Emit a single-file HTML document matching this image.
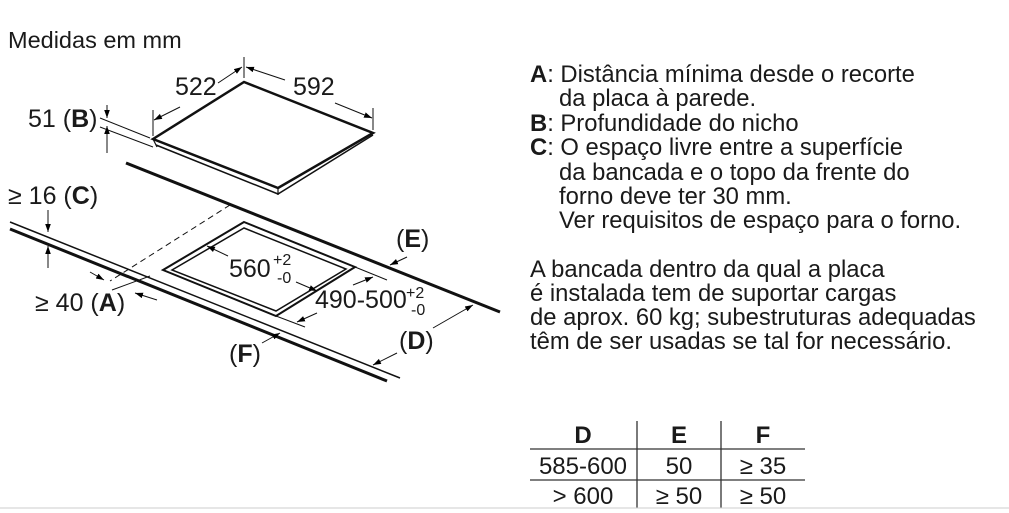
<!DOCTYPE html>
<html><head><meta charset="utf-8"><style>
html,body{margin:0;padding:0;background:#fff;}
svg{display:block;font-family:"Liberation Sans",Arial,sans-serif;}
</style></head><body>
<svg width="1009" height="513" viewBox="0 0 1009 513" xmlns="http://www.w3.org/2000/svg">
<defs>
<marker id="ar" viewBox="0 0 10 10" refX="10" refY="5" markerWidth="8" markerHeight="8" orient="auto-start-reverse"><path d="M0,1.5 L10,5 L0,8.5 z" fill="#000"/></marker>
</defs>
<text x="8" y="48" font-size="23.5" fill="#1a1a1a">Medidas em mm</text>
<!-- hob -->
<g stroke="#111" fill="none">
<polygon points="153,139 244,82 373,133 278,188" stroke-width="2.5"/>
<polyline points="156,145 278,194 373,135" stroke-width="1.5"/>
<line x1="153" y1="139" x2="157" y2="147" stroke-width="1.2"/>
<line x1="278" y1="188" x2="278" y2="195" stroke-width="1.2"/>
<line x1="126" y1="163" x2="500" y2="312" stroke-width="3"/>
<line x1="10" y1="222" x2="400" y2="378" stroke-width="1.5"/>
<line x1="10" y1="229" x2="387" y2="381" stroke-width="3"/>
<polygon points="244,222 355,267 276,316 163,270" stroke-width="2"/>
<polygon points="244,228 346,269 276,311 172,270" stroke-width="1.5"/>
<line x1="230" y1="205" x2="110" y2="281" stroke-width="1" stroke-dasharray="6,4"/>
</g>
<g stroke="#111" stroke-width="1" fill="none">
<line x1="153" y1="136" x2="153" y2="110"/>
<line x1="244" y1="78" x2="244" y2="57"/>
<line x1="373" y1="130" x2="373" y2="108"/>
<line x1="180" y1="107" x2="154" y2="120" marker-end="url(#ar)"/>
<line x1="218" y1="83" x2="242" y2="67" marker-end="url(#ar)"/>
<line x1="285" y1="80" x2="246" y2="67" marker-end="url(#ar)"/>
<line x1="335" y1="103" x2="372" y2="118" marker-end="url(#ar)"/>
<line x1="100" y1="118" x2="150" y2="138"/>
<line x1="100" y1="127" x2="153" y2="147"/>
<line x1="107" y1="105" x2="107" y2="118" marker-end="url(#ar)"/>
<line x1="107" y1="153" x2="107" y2="126" marker-end="url(#ar)"/>
<line x1="48" y1="210" x2="48" y2="232" marker-end="url(#ar)"/>
<line x1="48" y1="268" x2="48" y2="246" marker-end="url(#ar)"/>
<line x1="90" y1="272" x2="104" y2="280" marker-end="url(#ar)"/>
<line x1="157" y1="300" x2="135" y2="293" marker-end="url(#ar)"/>
<line x1="112" y1="290" x2="150" y2="276"/>
<line x1="228" y1="256" x2="207" y2="246" marker-end="url(#ar)"/>
<line x1="296" y1="282" x2="317" y2="291" marker-end="url(#ar)"/>
<line x1="355" y1="267" x2="387" y2="280"/>
<line x1="276" y1="316" x2="305" y2="327"/>
<line x1="353" y1="285" x2="373" y2="277" marker-end="url(#ar)"/>
<line x1="317" y1="313" x2="297" y2="322" marker-end="url(#ar)"/>
<line x1="407" y1="257" x2="390" y2="265" marker-end="url(#ar)"/>
<line x1="433" y1="328" x2="473" y2="305" marker-end="url(#ar)"/>
<line x1="397" y1="353" x2="373" y2="365" marker-end="url(#ar)"/>
<line x1="262" y1="343" x2="280" y2="333" marker-end="url(#ar)"/>
</g>
<g fill="#1a1a1a" font-size="25">
<text x="175" y="95">522</text>
<text x="293" y="95">592</text>
<text x="28" y="127">51 (<tspan font-weight="bold">B</tspan>)</text>
<text x="8" y="204">≥ 16 (<tspan font-weight="bold">C</tspan>)</text>
<text x="35" y="311">≥ 40 (<tspan font-weight="bold">A</tspan>)</text>
<text x="229" y="277">560</text><text x="273" y="265" font-size="16">+2</text><text x="277" y="283" font-size="16">-0</text>
<text x="315" y="308">490-500</text><text x="406" y="298" font-size="16">+2</text><text x="411" y="315" font-size="16">-0</text>
<text x="396" y="247">(<tspan font-weight="bold">E</tspan>)</text>
<text x="399" y="349">(<tspan font-weight="bold">D</tspan>)</text>
<text x="229" y="362">(<tspan font-weight="bold">F</tspan>)</text>
</g>
<g fill="#1a1a1a" font-size="23.8">
<text x="530" y="82"><tspan font-weight="bold">A</tspan>: Distância mínima desde o recorte</text>
<text x="559" y="106">da placa à parede.</text>
<text x="530" y="131"><tspan font-weight="bold">B</tspan>: Profundidade do nicho</text>
<text x="530" y="155"><tspan font-weight="bold">C</tspan>: O espaço livre entre a superfície</text>
<text x="559" y="180">da bancada e o topo da frente do</text>
<text x="559" y="204">forno deve ter 30 mm.</text>
<text x="559" y="228">Ver requisitos de espaço para o forno.</text>
<text x="530" y="277">A bancada dentro da qual a placa</text>
<text x="530" y="301">é instalada tem de suportar cargas</text>
<text x="530" y="325">de aprox. 60 kg; subestruturas adequadas</text>
<text x="530" y="349">têm de ser usadas se tal for necessário.</text>
</g>
<g stroke="#333" stroke-width="1.3">
<line x1="530" y1="449" x2="805" y2="449"/>
<line x1="530" y1="480" x2="805" y2="480"/>
<line x1="637" y1="421" x2="637" y2="508"/>
<line x1="721" y1="421" x2="721" y2="508"/>
</g>
<line x1="0" y1="508" x2="1009" y2="508" stroke="#ccc" stroke-width="1"/>
<g fill="#1a1a1a" font-size="24" text-anchor="middle">
<text x="583" y="443" font-weight="bold">D</text>
<text x="679" y="443" font-weight="bold">E</text>
<text x="763" y="443" font-weight="bold">F</text>
<text x="583" y="474">585-600</text>
<text x="679" y="474">50</text>
<text x="763" y="474">≥ 35</text>
<text x="583" y="504">&gt; 600</text>
<text x="679" y="504">≥ 50</text>
<text x="763" y="504">≥ 50</text>
</g>
</svg>
</body></html>
